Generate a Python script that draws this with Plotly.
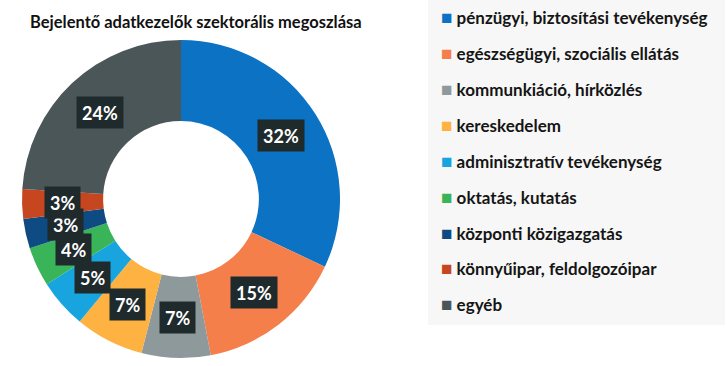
import math
import plotly.graph_objects as go

# ---- data ----
categories = [
    "pénzügyi, biztosítási tevékenység",
    "egészségügyi, szociális ellátás",
    "kommunkiáció, hírközlés",
    "kereskedelem",
    "adminisztratív tevékenység",
    "oktatás, kutatás",
    "központi közigazgatás",
    "könnyűipar, feldolgozóipar",
    "egyéb",
]
shares = [32, 15, 7, 7, 5, 4, 3, 3, 24]
colors = ["#0b72c4", "#f47f4a", "#8e999b", "#fdb241", "#18a5df",
          "#39b458", "#0d4b82", "#c5461f", "#4b5659"]
title_text = "Bejelentő adatkezelők szektorális megoszlása"

W, H = 727, 366


def px_x(x):
    return x / W


def px_y(y):
    return 1 - y / H


cx, cy, R = 181, 199, 159
hole = 0.49

fig = go.Figure()
fig.add_trace(go.Pie(
    labels=categories, values=shares, marker=dict(colors=colors, line=dict(width=0)),
    hole=hole, sort=False, direction="clockwise", rotation=0,
    textinfo="none", showlegend=False, hoverinfo="label+percent",
    domain=dict(x=[px_x(cx - R), px_x(cx + R)], y=[px_y(cy + R), px_y(cy - R)]),
))

# legend entries: coloured square glyph in the text, native symbol hidden
for i, (c, col) in enumerate(zip(categories, colors)):
    fig.add_trace(go.Scatter(
        x=[None], y=[None], mode="markers", legendgroup=f"g{i}",
        name=f"<span style='color:{col};font-size:19px'>■</span> {c}",
        marker=dict(symbol="square", size=1, color="rgba(0,0,0,0)"),
    ))

# percentage labels at the middle of each ring slice
total = sum(shares)
r_mid = R * (1 + hole) / 2
cum = 0
annotations = []
for v in shares:
    mid = (cum + v / 2) / total * 2 * math.pi
    cum += v
    x = cx + r_mid * math.sin(mid)
    y = cy - r_mid * math.cos(mid)
    annotations.append(dict(
        x=px_x(x), y=px_y(y), xref="paper", yref="paper", showarrow=False,
        text=f"<b>{v}%</b>", font=dict(family="Lato", size=18, color="white"),
        bgcolor="#1f2a2d", borderpad=5, height=21, xanchor="center", yanchor="middle",
    ))

fig.update_layout(
    width=W, height=H, margin=dict(l=0, r=0, t=0, b=0),
    paper_bgcolor="white", plot_bgcolor="white",
    xaxis=dict(visible=False), yaxis=dict(visible=False),
    title=dict(text=f"<b>{title_text}</b>", x=px_x(30), y=px_y(22),
               xanchor="left", yanchor="middle",
               font=dict(family="Lato", size=16.5, color="#111111")),
    legend=dict(x=px_x(401), y=1, xanchor="left", yanchor="top",
                bgcolor="rgba(0,0,0,0)",
                font=dict(family="Lato", size=17, color="#151515", weight="bold"),
                tracegroupgap=10.8, itemwidth=30, traceorder="grouped"),
    annotations=annotations,
    shapes=[dict(type="rect", xref="paper", yref="paper", x0=px_x(428), x1=px_x(725),
                 y0=px_y(325), y1=px_y(0), fillcolor="#f7f7f7", line=dict(width=0),
                 layer="below")],
)

fig.write_html("out.html", config={"displayModeBar": False},
               post_script="document.body.style.margin='0px';")
